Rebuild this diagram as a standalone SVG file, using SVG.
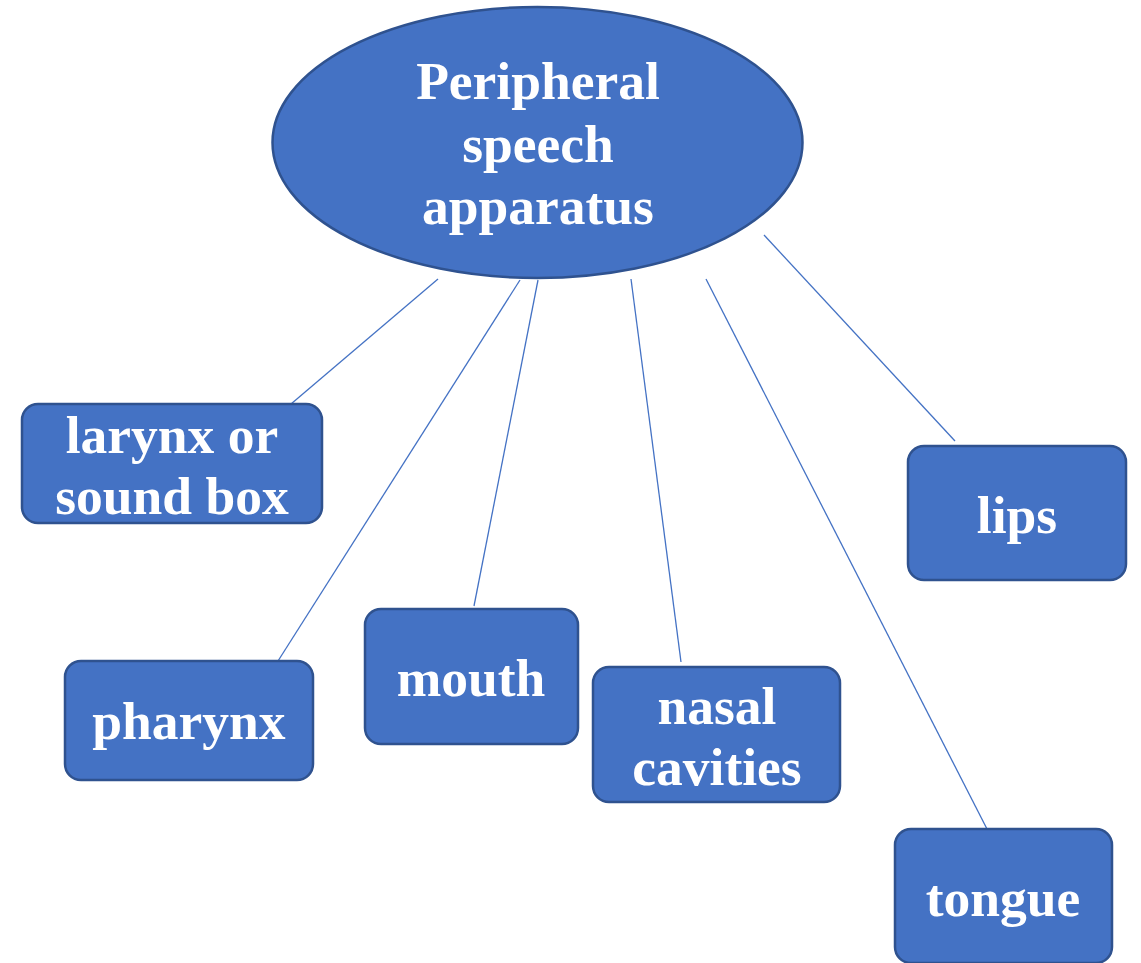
<svg xmlns="http://www.w3.org/2000/svg" width="1141" height="963" viewBox="0 0 1141 963">
<style>
.n{fill:#4472C4;stroke:#2F528F;stroke-width:2.5}
.t{font-family:"Liberation Serif","Times New Roman",serif;font-weight:bold;font-size:53.5px;fill:#fff;text-anchor:middle}
.c line{stroke:#4472C4;stroke-width:1.3}
</style>
<rect width="1141" height="963" fill="#fff"/>
<g class="c" id="connectors">
<line x1="438" y1="279" x2="291" y2="404"/>
<line x1="520" y1="280" x2="278" y2="661"/>
<line x1="538" y1="280" x2="474" y2="606"/>
<line x1="631" y1="279" x2="681" y2="662"/>
<line x1="706" y1="279" x2="987" y2="829"/>
<line x1="764" y1="235" x2="955" y2="441"/>
</g>
<g id="root">
<ellipse class="n" cx="537.5" cy="142.5" rx="265" ry="135.5"/>
<text class="t" x="538" y="99">Peripheral</text>
<text class="t" x="538" y="162">speech</text>
<text class="t" x="538" y="224">apparatus</text>
</g>
<g id="larynx">
<rect class="n" x="22" y="404" width="300" height="119" rx="16"/>
<text class="t" x="172" y="453">larynx or</text>
<text class="t" x="172" y="514">sound box</text>
</g>
<g id="pharynx">
<rect class="n" x="65" y="661" width="248" height="119" rx="16"/>
<text class="t" x="189" y="739">pharynx</text>
</g>
<g id="mouth">
<rect class="n" x="365" y="609" width="213" height="135" rx="16"/>
<text class="t" x="471" y="696">mouth</text>
</g>
<g id="nasal">
<rect class="n" x="593" y="667" width="247" height="135" rx="16"/>
<text class="t" x="717" y="724">nasal</text>
<text class="t" x="717" y="785">cavities</text>
</g>
<g id="lips">
<rect class="n" x="908" y="446" width="218" height="134" rx="16"/>
<text class="t" x="1017" y="533">lips</text>
</g>
<g id="tongue">
<rect class="n" x="895" y="829" width="217" height="134" rx="16"/>
<text class="t" x="1003" y="916">tongue</text>
</g>
</svg>
